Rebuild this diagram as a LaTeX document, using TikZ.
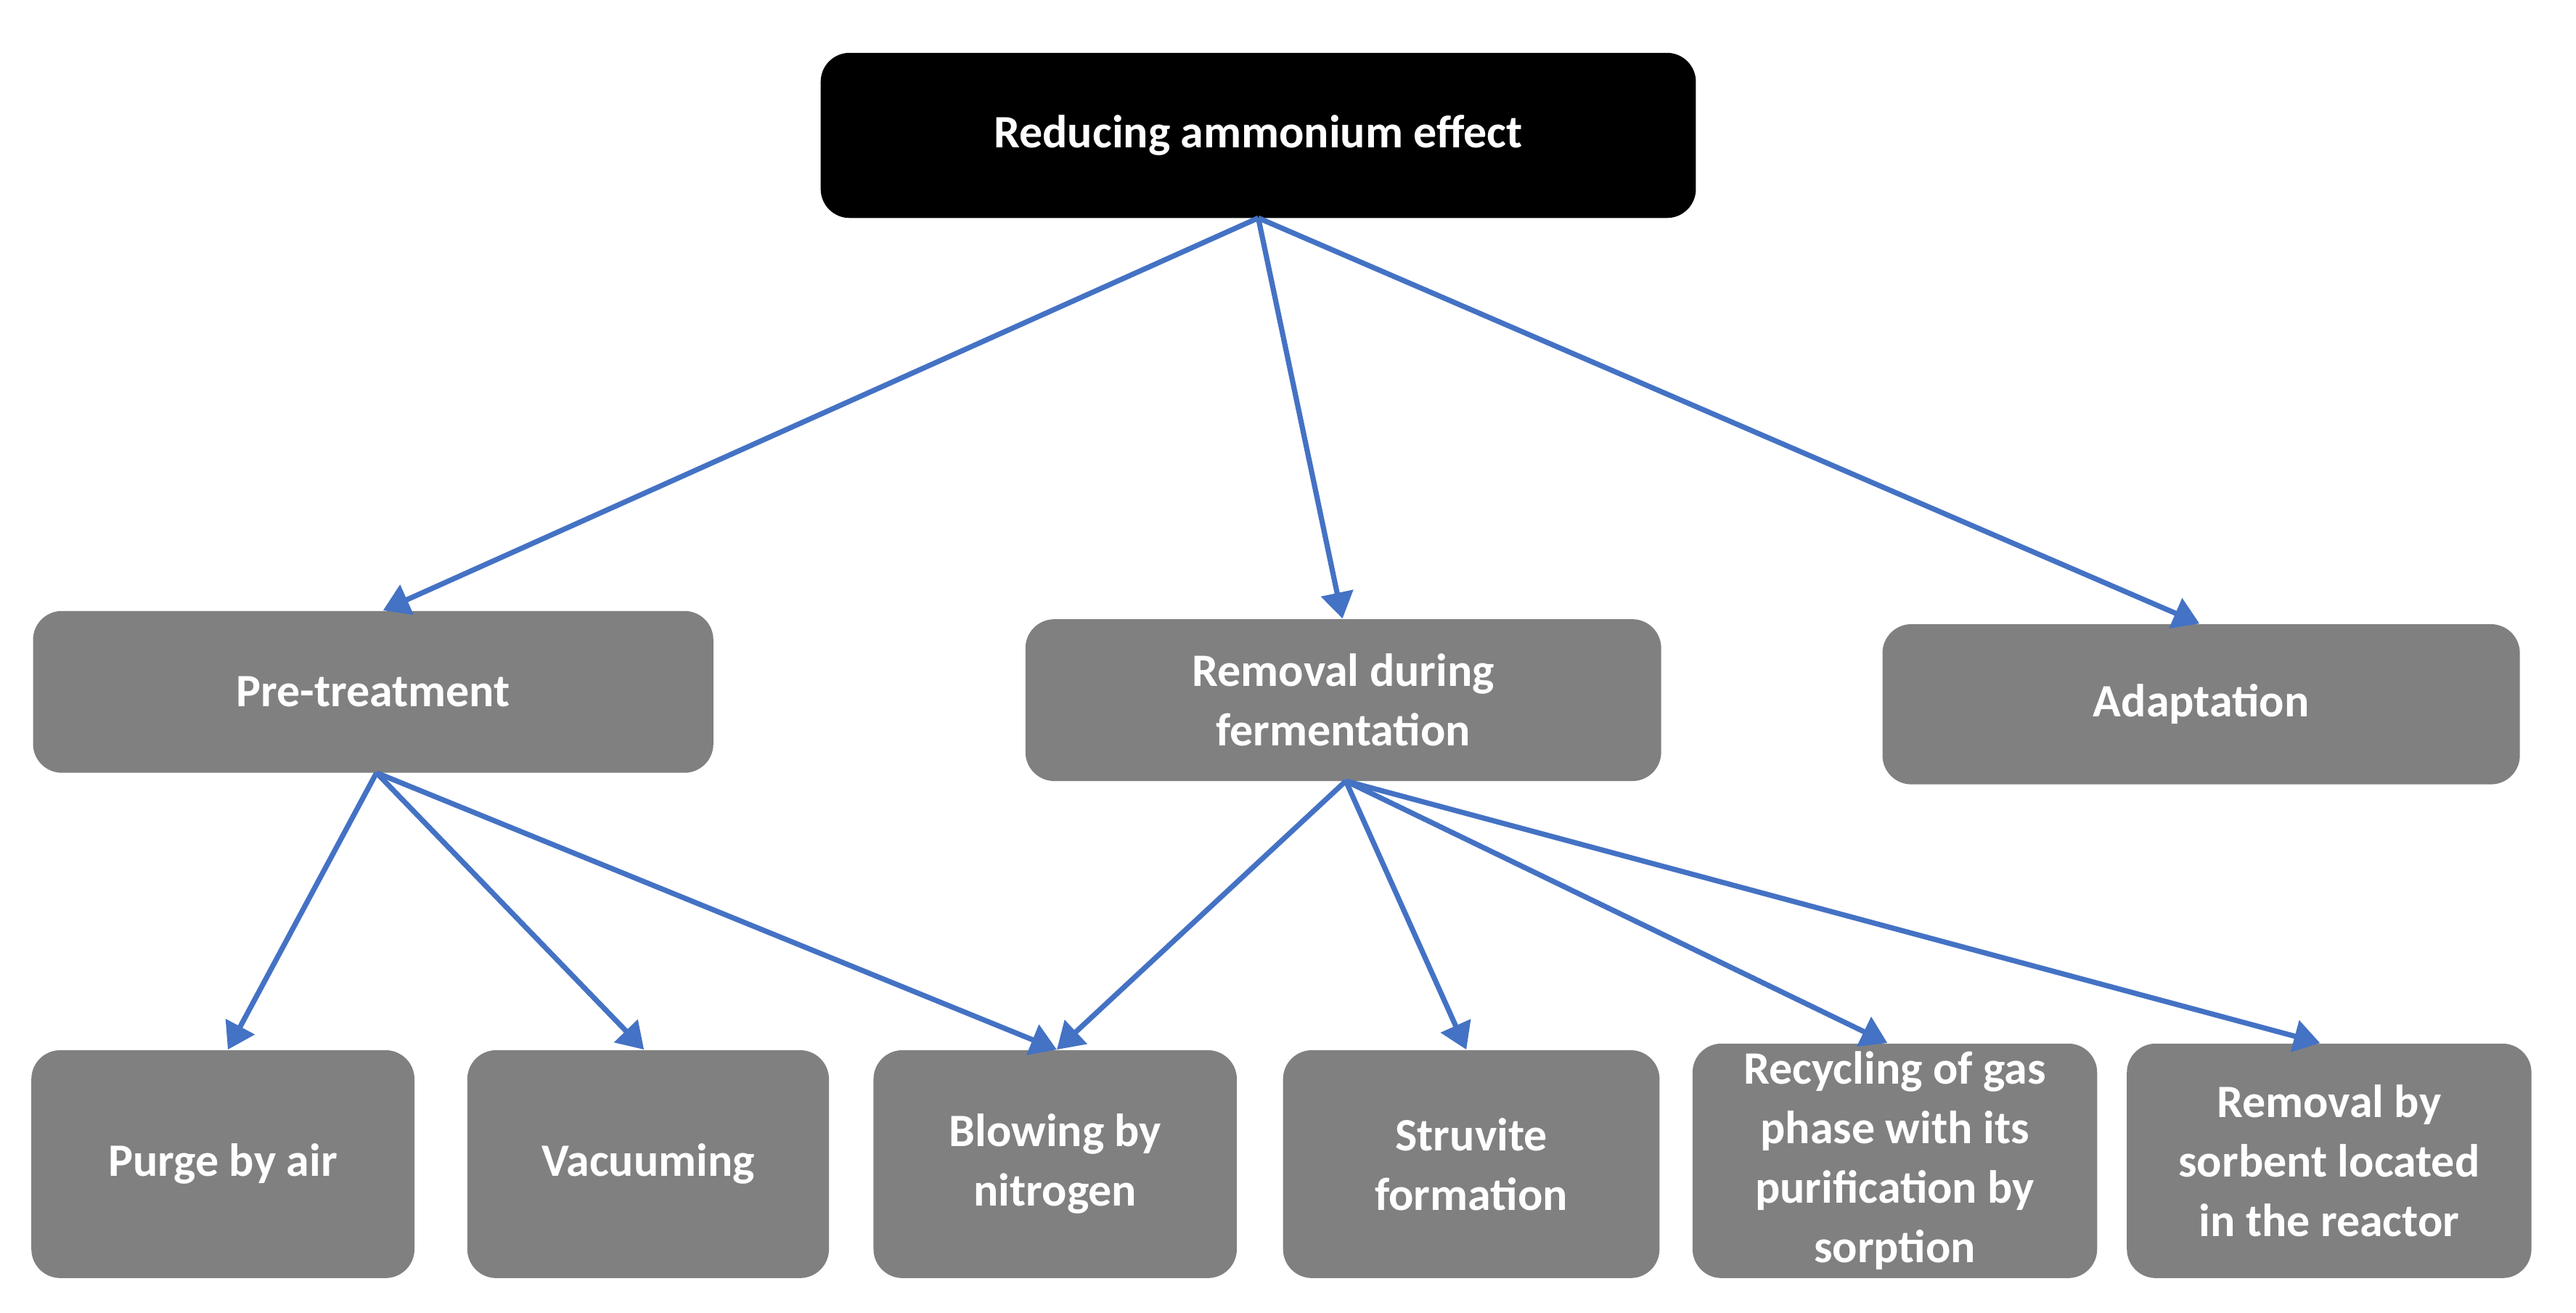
\documentclass[tikz,border=0pt]{standalone}
\usepackage{fontspec}
\setmainfont{Carlito}
\usetikzlibrary{arrows.meta}
\begin{document}
\begin{tikzpicture}[x=0.02cm,y=-0.02cm,
  box/.style={fill=gray!100!white, fill=black!50, rounded corners=0.35cm, text=white,
    font=\fontsize{16}{20.5}\selectfont\bfseries, align=center, inner sep=0pt},
  top/.style={box, fill=black},
  arr/.style={draw={rgb,255:red,68;green,114;blue,196}, line width=1.8pt,
    -{Triangle[length=9pt,width=11pt]}}]
\useasboundingbox (0,0) rectangle (1560,795);
\newcommand{\bx}[7]{\node[#1, minimum width=#4*0.02cm-#3*0.02cm, minimum height=#6*0.02cm-#5*0.02cm] (#2) at ({(#3+#4)/2},{(#5+#6)/2}) {#7};}
\bx{top}{r}{497}{1027}{32}{132}{Reducing ammonium effect}
\bx{box}{p}{20}{432}{370}{468}{Pre-treatment}
\bx{box}{f}{621}{1006}{375}{473}{Removal during\\fermentation}
\bx{box}{a}{1140}{1526}{378}{475}{Adaptation}
\bx{box}{b1}{19}{251}{636}{774}{Purge by air}
\bx{box}{b2}{283}{502}{636}{774}{Vacuuming}
\bx{box}{b3}{529}{749}{636}{774}{Blowing by\\nitrogen}
\bx{box}{b4}{777}{1005}{636}{774}{Struvite\\formation}
\bx{box}{b5}{1025}{1270}{632}{774}{Recycling of gas\\phase with its\\purification by\\sorption}
\bx{box}{b6}{1288}{1533}{632}{774}{Removal by\\sorbent located\\in the reactor}
\coordinate (rs) at (762,132);
\coordinate (ps) at (228,468);
\coordinate (fs) at (815,473);
\draw[arr] (rs) -- (p.north -| 232,0);
\draw[arr] (rs) -- (f.north -| 813,0);
\draw[arr] (rs) -- (a.north -| 1332,0);
\draw[arr] (ps) -- (b1.north -| 138,0);
\draw[arr] (ps) -- (b2.north -| 390,0);
\draw[arr] (ps) -- (b3.north -| 640,0);
\draw[arr] (fs) -- (b3.north -| 640,0);
\draw[arr] (fs) -- (b4.north -| 888,0);
\draw[arr] (fs) -- (b5.north -| 1143,0);
\draw[arr] (fs) -- (b6.north -| 1405,0);
\end{tikzpicture}
\end{document}
